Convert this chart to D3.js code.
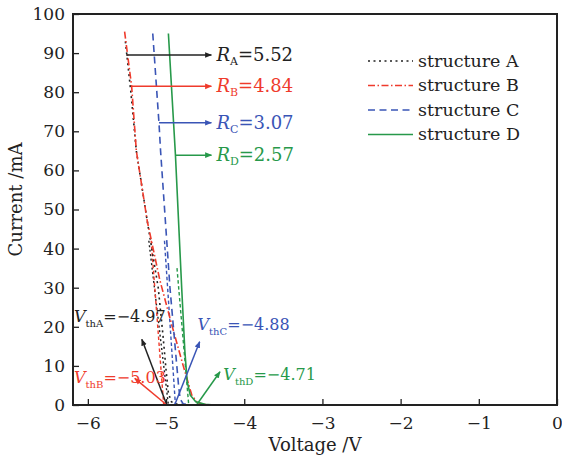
<!DOCTYPE html>
<html><head><meta charset="utf-8">
<script src="https://cdnjs.cloudflare.com/ajax/libs/d3/7.8.5/d3.min.js"></script>
<style>body{margin:0;background:#fff}svg{display:block}</style>
</head><body><div id="chart"></div>
<script>
// ---- data ----
const xTicks = [-6, -5, -4, -3, -2, -1, 0];
const yTicks = [0, 10, 20, 30, 40, 50, 60, 70, 80, 90, 100];
const seriesNames = ["structure A", "structure B", "structure C", "structure D"];
const seriesColors = ["#222222", "#ef3b2c", "#3a55b6", "#27994a"];
const seriesDash = ["2,3.5", "7,2.5,1.5,2.5", "7,4.5", null];

const voltA = [-5.52, -5.45, -5.38, -5.24, -5.10, -5.04, -5.00, -4.97, -4.93, -4.85, -4.40];
const currA = [93, 80, 65, 47, 30, 18, 9, 3, 0.8, 0.1, 0];
const voltB = [-5.53, -5.44, -5.38, -5.24, -5.08, -4.92, -4.78, -4.67, -4.60, -4.50, -4.40];
const currB = [95.5, 81.5, 65, 47, 32, 20, 10, 2.5, 0.6, 0.1, 0];
const voltC = [-5.17, -5.09, -5.07, -4.95, -4.88, -4.84, -4.82, -4.78, -4.70, -4.40];
const currC = [95, 72, 65, 30, 14, 5, 1.5, 0.3, 0.05, 0];
const voltD = [-4.97, -4.88, -4.80, -4.76, -4.73, -4.69, -4.62, -4.50, -4.38];
const currD = [95, 64, 30, 14, 6, 2.5, 0.8, 0.2, 0];

// extrapolated threshold lines [V_start, I_start, V_end(Vth), 0]
const tangentV0 = [-5.22, -5.19, -5.02, -4.86];
const tangentI0 = [42, 42, 42, 35];
const vth = [-4.97, -5.03, -4.88, -4.71];
const vthText = ["−4.97", "−5.03", "−4.88", "−4.71"];
const vthSub = ["thA", "thB", "thC", "thD"];
// Vth arrows: from (arrowV0, 0) to (arrowV1, arrowI1)
const vthArrowV0 = [-4.99, -4.99, -4.89, -4.61];
const vthArrowV1 = [-5.31, -5.40, -4.57, -4.31];
const vthArrowI1 = [16.8, 6.8, 16.2, 8.5];
const vthLabelV = [-6.19, -6.19, -4.61, -4.28];
const vthLabelI = [21.3, 5.6, 19.3, 6.5];

// R arrows
const rText = ["5.52", "4.84", "3.07", "2.57"];
const rSub = ["A", "B", "C", "D"];
const rArrowV0 = [-5.51, -5.44, -5.09, -4.88];
const rArrowI = [89.5, 81.5, 72.2, 63.9];
const rArrowV1 = -4.42;

// ---- layout ----
const W = 562, H = 456;
const m = {left: 73, right: 5, top: 14, bottom: 51};
const font = "'DejaVu Serif', 'Liberation Serif', serif";

const svg = d3.select("#chart").append("svg").attr("width", W).attr("height", H)
  .style("font-family", font);

const x = d3.scaleLinear().domain([-6.19, 0]).range([m.left, W - m.right]);
const y = d3.scaleLinear().domain([0, 100]).range([H - m.bottom, m.top]);

const defs = svg.append("defs");
seriesColors.forEach((c, i) => {
  defs.append("marker").attr("id", "ah" + i).attr("viewBox", "0 0 10 10")
    .attr("refX", 9).attr("refY", 5).attr("markerWidth", 7).attr("markerHeight", 7)
    .attr("markerUnits", "userSpaceOnUse").attr("orient", "auto")
    .append("path").attr("d", "M0,1 L10,5 L0,9 Z").attr("fill", c);
});

const plot = svg.append("g");
const line = d3.line().x(d => x(d[0])).y(d => y(d[1]));
const volts = [voltA, voltB, voltC, voltD];
const currs = [currA, currB, currC, currD];

// tangent (threshold extrapolation) lines
vth.forEach((v, i) => {
  plot.append("path").attr("d", line([[tangentV0[i], tangentI0[i]], [v, 0]]))
    .attr("fill", "none").attr("stroke", seriesColors[i]).attr("stroke-width", 1.4)
    .attr("stroke-dasharray", i === 0 ? "2,2.5" : "3.5,2.5");
});

// main curves
volts.forEach((vs, i) => {
  const pts = vs.map((v, k) => [v, currs[i][k]]);
  plot.append("path").attr("d", line(pts))
    .attr("fill", "none").attr("stroke", seriesColors[i]).attr("stroke-width", 1.6)
    .attr("stroke-dasharray", seriesDash[i]);
});

// R arrows + labels
rText.forEach((t, i) => {
  plot.append("line").attr("x1", x(rArrowV0[i])).attr("x2", x(rArrowV1))
    .attr("y1", y(rArrowI[i])).attr("y2", y(rArrowI[i]))
    .attr("stroke", seriesColors[i]).attr("stroke-width", 1.5)
    .attr("marker-end", `url(#ah${i})`);
  const tx = plot.append("text").attr("x", x(rArrowV1) + 5).attr("y", y(rArrowI[i]) + 6)
    .attr("fill", seriesColors[i]).attr("font-size", 18);
  tx.append("tspan").attr("font-style", "italic").text("R");
  tx.append("tspan").attr("font-size", 11).attr("dy", 4).text(rSub[i]);
  tx.append("tspan").attr("dy", -4).text("=" + t);
});

// Vth arrows + labels
vth.forEach((v, i) => {
  plot.append("line").attr("x1", x(vthArrowV0[i])).attr("y1", y(0))
    .attr("x2", x(vthArrowV1[i])).attr("y2", y(vthArrowI1[i]))
    .attr("stroke", seriesColors[i]).attr("stroke-width", 1.5)
    .attr("marker-end", `url(#ah${i})`);
  const tx = plot.append("text").attr("x", x(vthLabelV[i]) + 1).attr("y", y(vthLabelI[i]))
    .attr("fill", seriesColors[i]).attr("font-size", 16);
  tx.append("tspan").attr("font-style", "italic").text("V");
  tx.append("tspan").attr("font-size", 10).attr("dy", 5).text(vthSub[i]);
  tx.append("tspan").attr("dy", -5).text("=" + vthText[i]);
});

// axes
const xAxis = d3.axisBottom(x).tickValues(xTicks).tickSizeInner(-6).tickSizeOuter(0)
  .tickPadding(12).tickFormat(d3.format("d"));
const gx = svg.append("g").attr("transform", `translate(0,${H - m.bottom})`).call(xAxis);
gx.select(".domain").remove();
gx.selectAll("text").attr("font-size", 17).attr("font-family", font).attr("fill", "#222");
gx.selectAll("line").attr("stroke", "#222").attr("stroke-width", 1.3);

const yAxis = d3.axisLeft(y).tickValues(yTicks).tickSizeInner(-6).tickSizeOuter(0)
  .tickPadding(8);
const gy = svg.append("g").attr("transform", `translate(${m.left},0)`).call(yAxis);
gy.select(".domain").remove();
gy.selectAll("text").attr("font-size", 17).attr("font-family", font).attr("fill", "#222");
gy.selectAll("line").attr("stroke", "#222").attr("stroke-width", 1.3);

// frame
svg.append("rect").attr("x", m.left).attr("y", m.top)
  .attr("width", W - m.right - m.left).attr("height", H - m.bottom - m.top)
  .attr("fill", "none").attr("stroke", "#222").attr("stroke-width", 2);

// axis titles
svg.append("text").attr("x", (m.left + W - m.right) / 2).attr("y", 451)
  .attr("text-anchor", "middle").attr("font-size", 18).attr("fill", "#222").text("Voltage /V");
svg.append("text").attr("transform", `translate(22,${(m.top + H - m.bottom) / 2 - 10}) rotate(-90)`)
  .attr("text-anchor", "middle").attr("font-size", 18).attr("fill", "#222").text("Current /mA");

// legend
const lg = svg.append("g");
seriesNames.forEach((n, i) => {
  const cy = 61 + i * 24.5;
  lg.append("line").attr("x1", 368).attr("x2", 413).attr("y1", cy).attr("y2", cy)
    .attr("stroke", seriesColors[i]).attr("stroke-width", 1.5)
    .attr("stroke-dasharray", seriesDash[i]);
  lg.append("text").attr("x", 418).attr("y", cy + 5.5).attr("font-size", 17.5)
    .attr("fill", "#222").text(n);
});
</script></body></html>
